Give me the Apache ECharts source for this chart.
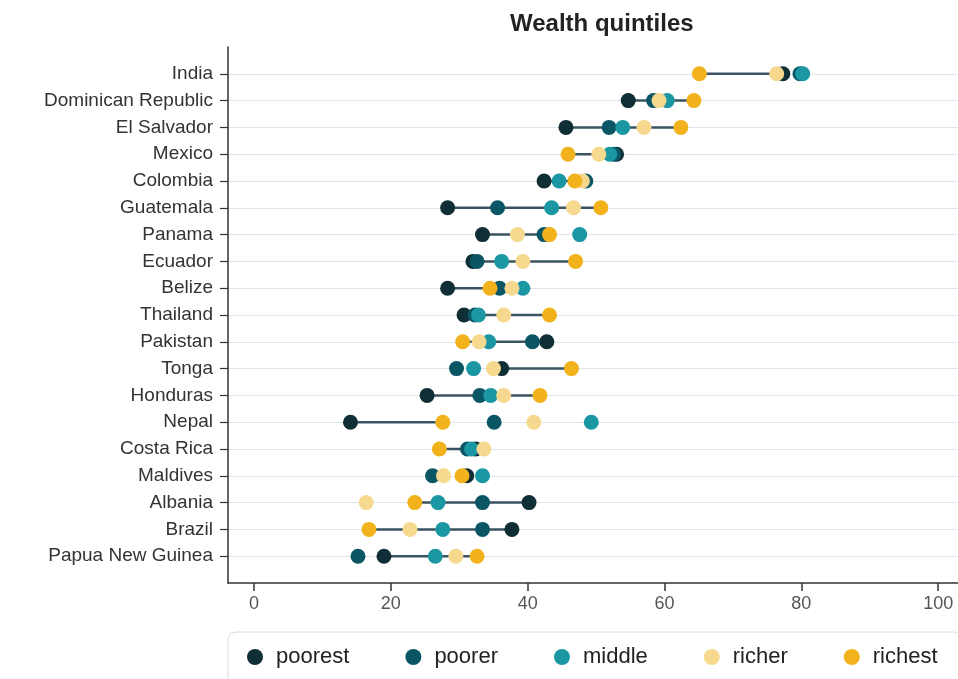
<!DOCTYPE html>
<html>
<head>
<meta charset="utf-8">
<title>Wealth quintiles</title>
<script src="https://cdn.jsdelivr.net/npm/echarts@6/dist/echarts.min.js"></script>
<style>
  html, body { margin: 0; padding: 0; background: #fff; }
  #main { width: 958px; height: 679px; }
</style>
</head>
<body>
<div id="main"></div>
<script>
// countries, top to bottom
var countries = ['India', 'Dominican Republic', 'El Salvador', 'Mexico', 'Colombia', 'Guatemala',
  'Panama', 'Ecuador', 'Belize', 'Thailand', 'Pakistan', 'Tonga', 'Honduras', 'Nepal',
  'Costa Rica', 'Maldives', 'Albania', 'Brazil', 'Papua New Guinea'];

var poorest = [77.3, 54.7, 45.6, 53.0, 42.4, 28.3, 33.4, 32.0, 28.3, 30.7, 42.8, 36.2, 25.3, 14.1, 32.4, 31.1, 40.2, 37.7, 19.0];
var poorer  = [79.8, 58.4, 51.9, 52.6, 48.5, 35.6, 42.4, 32.6, 35.9, 32.3, 40.7, 29.6, 33.0, 35.1, 31.2, 26.1, 33.4, 33.4, 15.2];
var middle  = [80.2, 60.4, 53.9, 52.0, 44.6, 43.5, 47.6, 36.2, 39.3, 32.8, 34.3, 32.1, 34.6, 49.3, 31.8, 33.4, 26.9, 27.6, 26.5];
var richer  = [76.4, 59.2, 57.0, 50.4, 48.0, 46.7, 38.5, 39.3, 37.7, 36.5, 32.9, 35.0, 36.5, 40.9, 33.6, 27.7, 16.4, 22.8, 29.5];
var richest = [65.1, 64.3, 62.4, 45.9, 46.9, 50.7, 43.2, 47.0, 34.5, 43.2, 30.5, 46.4, 41.8, 27.6, 27.1, 30.4, 23.5, 16.8, 32.6];

var groupNames = ['poorest', 'poorer', 'middle', 'richer', 'richest'];
var groupValues = [poorest, poorer, middle, richer, richest];
var groupColors = ['#0f2e35', '#0b5665', '#1a97a3', '#f6d98e', '#f2b21c'];
var xTicks = [0, 20, 40, 60, 80, 100];

// blank slots above and below so rows sit a step away from the axis ends
var yCats = [' '].concat(countries).concat(['  ']);
var isRow = function (idx) { return idx > 0 && idx < yCats.length - 1; };

var font = 'Liberation Sans, Arial, sans-serif';
var myChart = echarts.init(document.getElementById('main'));

var series = [{
  type: 'custom',
  name: 'range',
  silent: true,
  z: 1,
  encode: { x: [0, 1], y: 2 },
  data: countries.map(function (c, i) { return [poorest[i], richest[i], c]; }),
  renderItem: function (params, api) {
    var a = api.coord([api.value(0), api.value(2)]);
    var b = api.coord([api.value(1), api.value(2)]);
    return {
      type: 'line',
      shape: { x1: a[0], y1: a[1], x2: b[0], y2: b[1] },
      style: { stroke: '#3a5361', lineWidth: 2.5 }
    };
  }
}];

groupNames.forEach(function (g, k) {
  series.push({
    type: 'scatter',
    name: g,
    z: 2 + k,
    symbol: 'circle',
    symbolSize: 15,
    itemStyle: { color: groupColors[k], opacity: 1 },
    data: countries.map(function (c, i) { return [groupValues[k][i], c]; })
  });
});

var option = {
  animation: false,
  textStyle: { fontFamily: font },
  title: {
    text: 'Wealth quintiles',
    left: 505,
    top: 7,
    textStyle: { fontSize: 24, fontWeight: 'bold', color: '#222', fontFamily: font }
  },
  grid: { left: 228, right: 0, top: 47, bottom: 96, containLabel: false },
  xAxis: {
    type: 'value',
    min: -3.8,
    max: 102.9,
    splitLine: { show: false },
    axisLine: { show: true, onZero: false, lineStyle: { color: '#333', width: 1.5 } },
    axisTick: { show: true, length: 8, customValues: xTicks, lineStyle: { color: '#333', width: 1.5 } },
    axisLabel: { customValues: xTicks, fontSize: 18, color: '#555', margin: 12, fontFamily: font }
  },
  yAxis: {
    type: 'category',
    data: yCats,
    inverse: true,
    boundaryGap: false,
    axisLine: { show: true, onZero: false, lineStyle: { color: '#333', width: 1.5 } },
    axisTick: { show: true, length: 8, interval: isRow, lineStyle: { color: '#333', width: 1.2 } },
    axisLabel: { interval: isRow, fontSize: 19, color: '#333', margin: 15, fontFamily: font },
    splitLine: { show: true, interval: isRow, lineStyle: { color: '#dde7eb', width: 1.2 } }
  },
  legend: {
    data: groupNames,
    left: 228,
    top: 632,
    width: 760,
    orient: 'horizontal',
    icon: 'circle',
    itemWidth: 16,
    itemHeight: 16,
    itemGap: 56,
    padding: [14, 24, 24, 19],
    borderColor: '#dcdcdc',
    borderWidth: 1,
    borderRadius: 8,
    backgroundColor: '#fff',
    textStyle: { fontSize: 22, color: '#222', padding: [0, 0, 0, 8], fontFamily: font }
  },
  series: series
};
myChart.setOption(option);
</script>
</body>
</html>
